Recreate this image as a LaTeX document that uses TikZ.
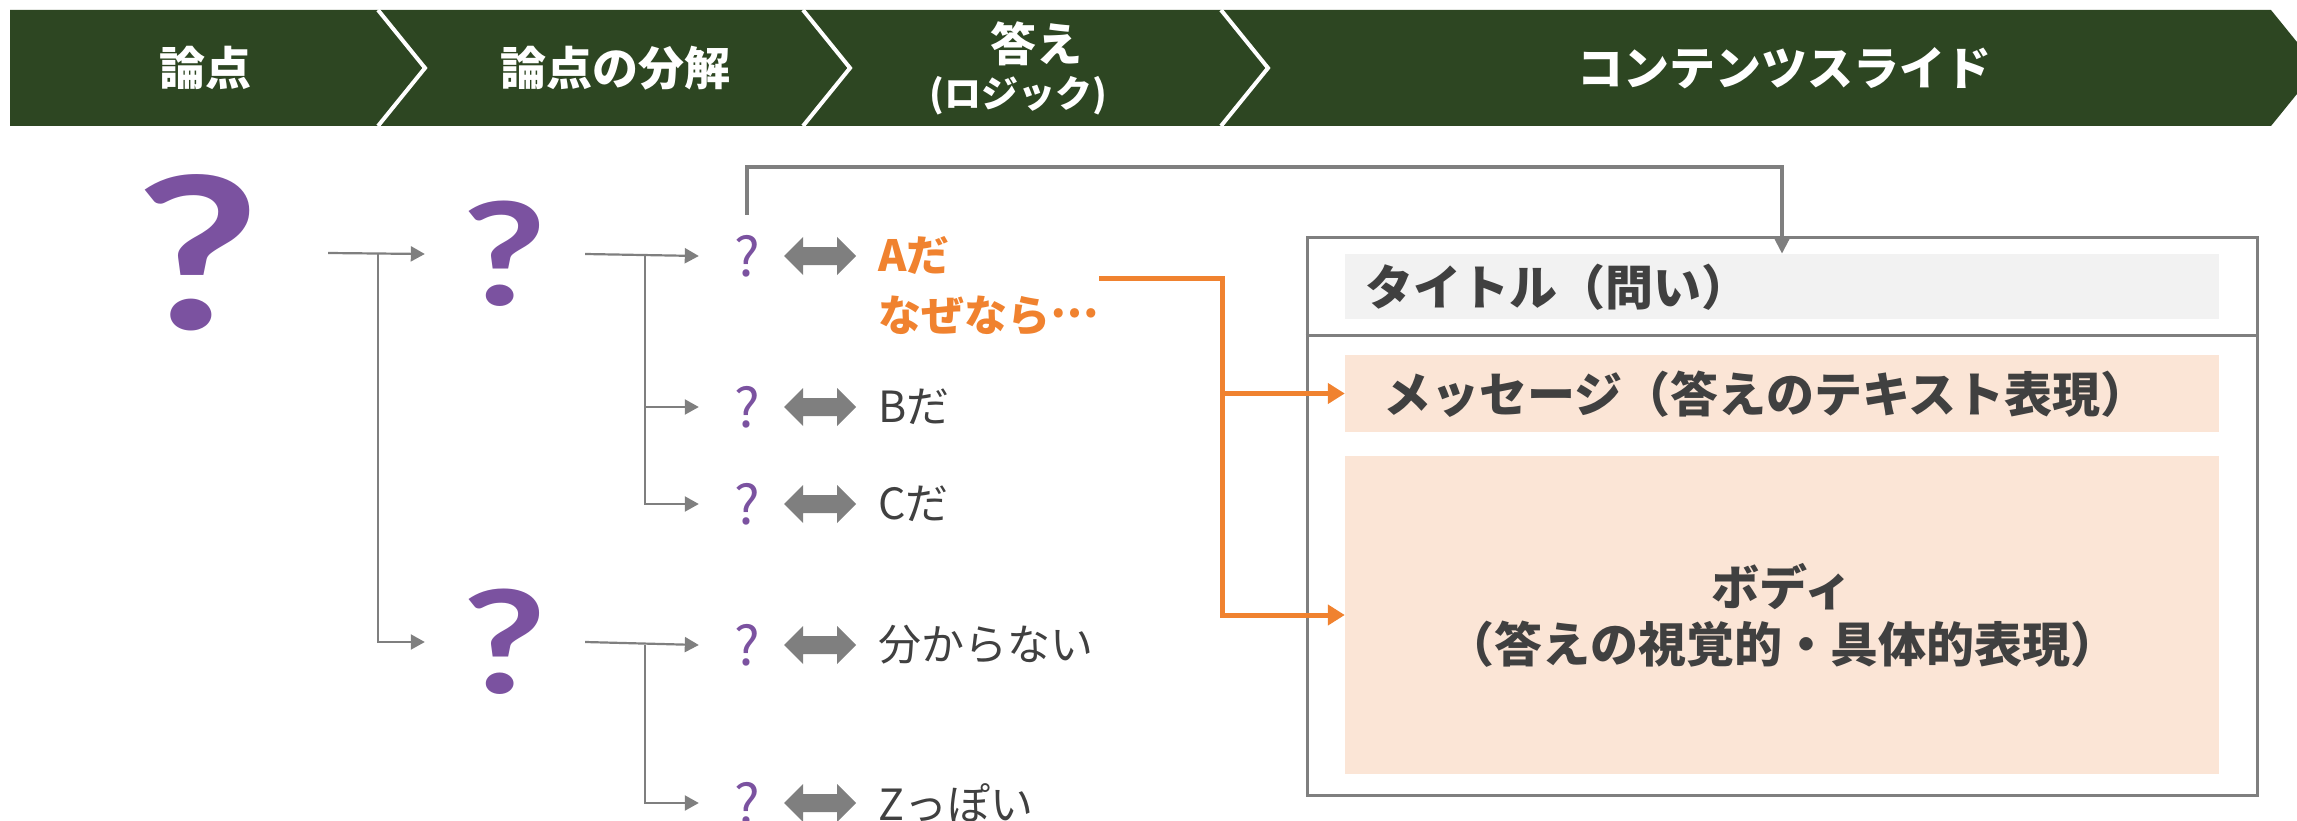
\documentclass[tikz,border=0pt]{standalone}
\usepackage{fontspec}
\setmainfont{Noto Sans CJK JP}
\newfontfamily\qfont{Lato}
\usetikzlibrary{arrows.meta,calc}
\definecolor{hdrgreen}{HTML}{2D4622}
\definecolor{qpurple}{HTML}{7B52A0}
\definecolor{lngray}{HTML}{7F7F7F}
\definecolor{txtgray}{HTML}{404040}
\definecolor{aorange}{HTML}{F0822F}
\definecolor{peach}{HTML}{FBE5D6}
\definecolor{lightbar}{HTML}{F2F2F2}
\newcommand\midell{\raisebox{0.33em}{…}}
\newcommand\wideq{\scalebox{1.28}[1]{?}}
\tikzset{
  hdrtext/.style={text=white,inner sep=0,font=\fontsize{46}{50}\selectfont\bfseries},
  hdrsmall/.style={text=white,inner sep=0,font=\fontsize{37}{40}\selectfont\bfseries},
  bigq/.style={text=qpurple,inner sep=0,font=\qfont\fontsize{212}{212}\selectfont\bfseries},
  midq/.style={text=qpurple,inner sep=0,font=\qfont\fontsize{143}{143}\selectfont\bfseries},
  smallq/.style={text=qpurple,inner sep=0,minimum width=96pt,font=\fontsize{54}{54}\selectfont},
  rowtext/.style={text=txtgray,inner sep=0,anchor=west,font=\fontsize{43}{46}\selectfont},
  rowhot/.style={text=aorange,inner sep=0,anchor=west,font=\fontsize{43}{46}\selectfont\bfseries},
  tree/.style={draw=lngray,line width=2.2pt,-{Triangle[length=14pt,width=15pt]}},
  bracket/.style={draw=lngray,line width=4.5pt,-{Triangle[length=16pt,width=15pt]}},
  oline/.style={draw=aorange,line width=5pt,-{Triangle[length=17pt,width=20pt]}},
  boxtext/.style={text=txtgray,inner sep=0,font=\fontsize{48}{57}\selectfont\bfseries},
  dblarr/.pic={\fill[lngray] (-36,0)--(-17,-19)--(-17,-9)--(17,-9)--(17,-19)--(36,0)--(17,19)--(17,9)--(-17,9)--(-17,19)--cycle;}
}
\begin{document}
\begin{tikzpicture}[x=1pt,y=-1pt]
\useasboundingbox (0,0) rectangle (2297,821);
% header band
\fill[hdrgreen] (10,10) -- (2271,10) -- (2318,68) -- (2271,126) -- (10,126) -- cycle;
\foreach \sx in {378,803,1221}{
  \draw[white,line width=4pt] (\sx,10) -- (\sx+47,68) -- (\sx,126);
}
\node[hdrtext] (h1) at (205,68) {論点};
\node[hdrtext] (h2) at (615,68) {論点の分解};
\node[hdrtext] (h3) at (1036,44) {答え};
\node[hdrsmall] (h3b) at (1018,96) {(ロジック)};
\node[hdrtext] (h4) at (1784,68) {コンテンツスライド};

% question marks
\node[bigq,minimum width=260pt] (q1) at (198,253) {\wideq};
\node[midq,minimum width=160pt] (q2a) at (505,254) {\wideq};
\node[midq,minimum width=160pt] (q2b) at (505,642) {\wideq};

% rows
\node[smallq] (qa) at (747,256) {?};
\node[smallq] (qb) at (747,407) {?};
\node[smallq] (qc) at (747,504) {?};
\node[smallq] (qd) at (747,645) {?};
\node[smallq] (qe) at (747,803) {?};
\pic (da) at (820,256) {dblarr};
\pic (db) at (820,407) {dblarr};
\pic (dc) at (820,504) {dblarr};
\pic (dd) at (820,645) {dblarr};
\pic (de) at (820,803) {dblarr};
\node[rowhot] (ta1) at (878,255) {Aだ};
\node[rowhot] (ta2) at (878,316) {なぜなら\midell};
\node[rowtext] (tb) at (878,407) {Bだ};
\node[rowtext] (tc) at (878,504) {Cだ};
\node[rowtext] (td) at (878,645) {分からない};
\node[rowtext] (te) at (878,803) {Zっぽい};

% tree connectors
\draw[tree] (q1.east) -- (q2a.west);
\coordinate (j1) at (378,254);
\draw[tree] (j1) |- (q2b.west);
\draw[tree] (q2a.east) -- (qa.west);
\coordinate (j2) at (645,256);
\draw[tree] (j2) |- (qb.west);
\draw[tree] (j2) |- (qc.west);
\draw[tree] (q2b.east) -- (qd.west);
\coordinate (j3) at (645,645);
\draw[tree] (j3) |- (qe.west);

% content slide
\node[draw=lngray,line width=3pt,minimum width=950pt,minimum height=557pt,inner sep=0] (slide) at (1782,516.5) {};
\coordinate (dv) at (0,335);
\draw[lngray,line width=3pt] (slide.west |- dv) -- (slide.east |- dv);
\node[fill=lightbar,minimum width=874pt,minimum height=65pt,inner sep=0] (titlebox) at (1782,286.5) {};
\node[boxtext,anchor=west] (titletext) at (1365,287) {タイトル（問い）};
\node[fill=peach,minimum width=874pt,minimum height=77pt,inner sep=0] (msgbox) at (1782,393.5) {};
\node[boxtext] (msgtext) at (1766,394) {メッセージ（答えのテキスト表現）};
\node[fill=peach,minimum width=874pt,minimum height=318pt,inner sep=0,boxtext,align=center] (bodybox) at (1782,615) {ボディ\\（答えの視覚的・具体的表現）};

% gray bracket from A question to title
\coordinate (brb) at (747,215);
\coordinate (brt) at (747,167);
\draw[bracket] (brb) -- (brt) -| (titlebox.north);

% orange connectors
\coordinate (os) at (1099,278);
\coordinate (oj) at (1222,278);
\draw[oline] (os) -- (oj) |- (msgbox.west);
\draw[oline] (oj) |- (bodybox.west);
\end{tikzpicture}
\end{document}
